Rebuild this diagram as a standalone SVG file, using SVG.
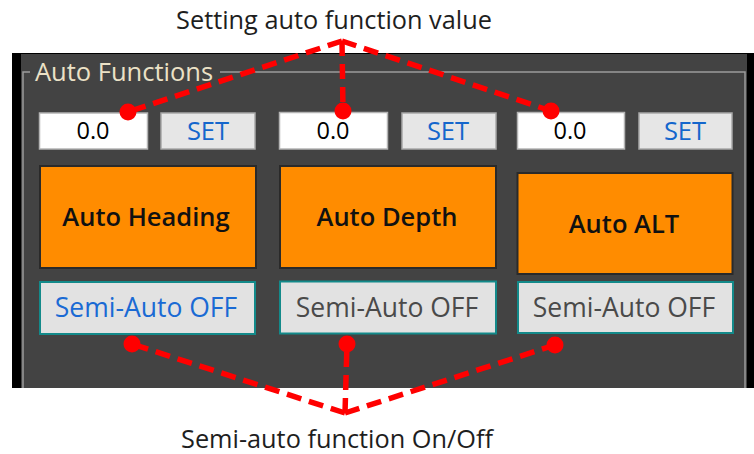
<svg xmlns="http://www.w3.org/2000/svg" width="754" height="454" viewBox="0 0 754 454">
<style>
.lbl{font-family:"Open Sans","Noto Sans","Liberation Sans",sans-serif;font-size:25.3px;fill:#1e1e1e}
.val{fill:#ffffff;stroke:#b4b4b4;stroke-width:1.5}
.valt{font-family:"Open Sans","Noto Sans","Liberation Sans",sans-serif;font-size:23.5px;fill:#000;text-anchor:middle}
.set{fill:#e6e6e6;stroke:#a8a8a8;stroke-width:1.5}
.sett{font-family:"Open Sans","Noto Sans","Liberation Sans",sans-serif;font-size:25.5px;fill:#1466cc;text-anchor:middle}
.auto{fill:#ff8c00;stroke:#2a2a2a;stroke-width:2}
.autot{font-family:"Open Sans","Noto Sans","Liberation Sans",sans-serif;font-size:25.5px;font-weight:600;fill:#111;text-anchor:middle}
.semi{fill:#e2e2e2;stroke:#138a8a;stroke-width:2}
.semit{font-family:"Open Sans","Noto Sans","Liberation Sans",sans-serif;font-size:26.5px;fill:#4a4a4a;text-anchor:middle}
.dash{fill:none;stroke:#ff0000;stroke-width:5.5;stroke-dasharray:15 8}
.dot{fill:#ff0000}
.gb{stroke:#9c9c9c;stroke-width:1.5;fill:none}
</style>
<rect width="754" height="454" fill="#ffffff"/>
<g id="panel">
<rect x="12" y="53" width="742" height="335" fill="#000000"/>
<rect x="21" y="54" width="726" height="334" fill="#434343"/>
<path class="gb" d="M23,388 V72 H30 M220,72 H745 V388"/>
<text x="35" y="81" font-family="'Open Sans','Noto Sans','Liberation Sans',sans-serif" font-size="25.5" fill="#ebe1c6">Auto Functions</text>
</g>
<g id="title-top"><text class="lbl" x="334" y="29" text-anchor="middle">Setting auto function value</text></g>
<g id="title-bottom"><text class="lbl" x="337" y="448" text-anchor="middle">Semi-auto function On/Off</text></g>
<g id="val1"><rect class="val" x="39.5" y="113" width="108" height="36"/><text class="valt" x="93" y="139">0.0</text></g>
<g id="set1"><rect class="set" x="161" y="113" width="94" height="36"/><text class="sett" x="208" y="140">SET</text></g>
<g id="val2"><rect class="val" x="279.5" y="112.5" width="108" height="36.5"/><text class="valt" x="333" y="139">0.0</text></g>
<g id="set2"><rect class="set" x="402" y="113" width="94" height="36"/><text class="sett" x="448" y="140">SET</text></g>
<g id="val3"><rect class="val" x="517.5" y="112.5" width="107" height="36.5"/><text class="valt" x="570" y="139">0.0</text></g>
<g id="set3"><rect class="set" x="639" y="113" width="93" height="36"/><text class="sett" x="685" y="140">SET</text></g>
<g id="auto-heading"><rect class="auto" x="40" y="166" width="216" height="102"/><text class="autot" x="146" y="226">Auto Heading</text></g>
<g id="auto-depth"><rect class="auto" x="280" y="166" width="216" height="102"/><text class="autot" x="387" y="226">Auto Depth</text></g>
<g id="auto-alt"><rect class="auto" x="517.5" y="173" width="215" height="101"/><text class="autot" x="624" y="233">Auto ALT</text></g>
<g id="semi1"><rect class="semi" x="40" y="282" width="215" height="52"/><text class="semit" x="146" y="317" style="fill:#1a6ad4">Semi-Auto OFF</text></g>
<g id="semi2"><rect class="semi" x="280" y="281.5" width="216" height="52"/><text class="semit" x="387" y="317">Semi-Auto OFF</text></g>
<g id="semi3"><rect class="semi" x="518" y="282" width="215" height="51"/><text class="semit" x="624" y="317">Semi-Auto OFF</text></g>
<g id="connectors">
<path class="dash" d="M342,41 L128,112"/>
<path class="dash" d="M342,41 L343,111"/>
<path class="dash" d="M342,41 L551,111"/>
<path class="dash" d="M345,413 L132,344"/>
<path class="dash" d="M345,413 L347,344"/>
<path class="dash" d="M345,413 L555,345"/>
<circle class="dot" cx="128" cy="112" r="8.5"/>
<circle class="dot" cx="343" cy="111" r="8.5"/>
<circle class="dot" cx="551" cy="111" r="8.5"/>
<circle class="dot" cx="132" cy="344" r="8.5"/>
<circle class="dot" cx="347" cy="344" r="8.5"/>
<circle class="dot" cx="555" cy="345" r="8.5"/>
</g>
</svg>
